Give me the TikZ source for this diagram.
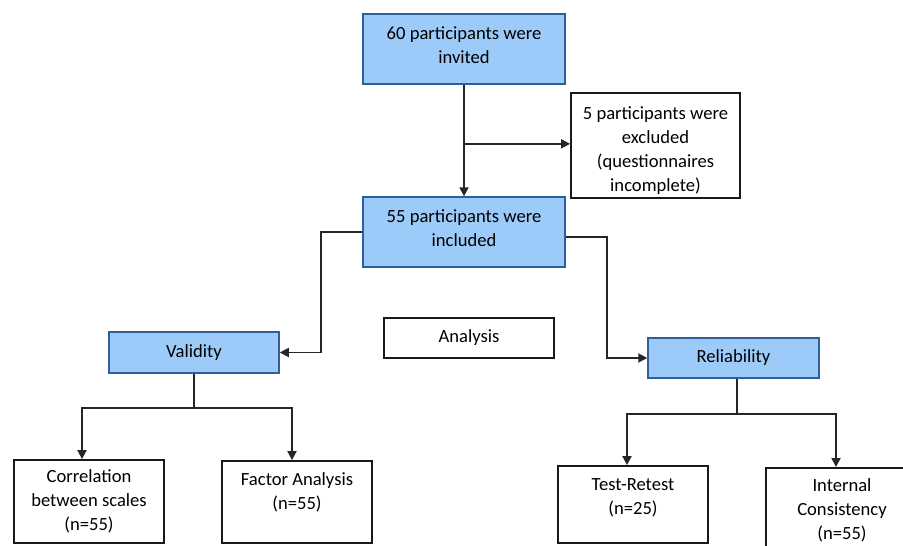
\documentclass[tikz,border=0pt]{standalone}
\usepackage{fontspec}
\setmainfont{Carlito}
\usetikzlibrary{arrows.meta,calc}
\definecolor{bluefill}{HTML}{9DCBF9}
\definecolor{blueline}{HTML}{2E5E9E}
\newcommand{\dn}[1]{\rule[-#1]{0pt}{#1}}
\newcommand{\up}[1]{\rule{0pt}{#1}}
\begin{document}
\begin{tikzpicture}[x=1pt,y=-1pt,
  txt/.style={align=center, inner sep=0pt, font=\fontsize{18.6}{24}\selectfont},
  bluebox/.style={txt, draw=blueline, line width=1.5pt, fill=bluefill},
  whitebox/.style={txt, draw=black!90, line width=1.8pt, fill=white},
  conn/.style={line width=1.8pt, draw=black!85},
  arr/.style={conn, -{Triangle[length=9pt,width=9pt]}}]
\clip (0,0) rectangle (903,546);
\useasboundingbox (0,0) rectangle (903,546);
\fill[white] (0,0) rectangle (903,546);

\node[bluebox, minimum width=202pt, minimum height=70pt] (top) at (464,49) {60 participants were\\invited\dn{8.5pt}};
\node[whitebox, minimum width=169pt, minimum height=105pt] (excl) at (655.5,145.5) {\up{22pt}5 participants were\\excluded\\(questionnaires\\incomplete)};
\node[bluebox, minimum width=202pt, minimum height=70pt] (inc) at (464,232) {55 participants were\\included\dn{7pt}};
\node[bluebox, minimum width=170pt, minimum height=41pt] (val) at (194,352.5) {Validity};
\node[whitebox, minimum width=170pt, minimum height=40pt] (ana) at (469,338) {Analysis};
\node[bluebox, minimum width=171pt, minimum height=40pt] (rel) at (733.5,358) {Reliability};
\node[whitebox, minimum width=150pt, minimum height=83pt] (cor) at (89,501.5) {Correlation\\between scales\\(n=55)};
\node[whitebox, minimum width=150pt, minimum height=82pt] (fac) at (297,502) {Factor Analysis\\(n=55)\dn{22.5pt}};
\node[whitebox, minimum width=150pt, minimum height=77pt] (tr) at (633,504.5) {Test-Retest\\(n=25)\dn{16.5pt}};
\node[whitebox, minimum width=152pt, minimum height=84pt, anchor=north] (ic) at (842,467) {Internal\\Consistency\\(n=55)};

% top to included, with branch to excluded
\draw[arr] (top.south) -- (inc.north);
\coordinate (br) at ($(top.south)!0.53!(inc.north)$);
\draw[arr] (br) -- (br -| excl.west);

% included to validity
\coordinate (lv) at (321,0);
\draw[arr] (inc.west) -- (inc.west -| lv) |- (val.east);

% included to reliability
\coordinate (rv) at (607,0);
\draw[arr] ([yshift=-5pt]inc.east) -- ([yshift=-5pt]inc.east -| rv) |- (rel.west);

% validity branches
\coordinate (vj) at (194,408);
\coordinate (vl) at (82,408);
\coordinate (vr) at (292,408);
\draw[conn] (val.south) -- (vj);
\draw[arr] (vj) -- (vl) -- (vl |- cor.north);
\draw[arr] (vj) -- (vr) -- (vr |- fac.north);

% reliability branches
\coordinate (rj) at (737,414);
\coordinate (rl) at (627,414);
\coordinate (rr) at (836,414);
\draw[conn] (rj |- rel.south) -- (rj);
\draw[arr] (rj) -- (rl) -- (rl |- tr.north);
\draw[arr] (rj) -- (rr) -- (rr |- ic.north);
\end{tikzpicture}
\end{document}
